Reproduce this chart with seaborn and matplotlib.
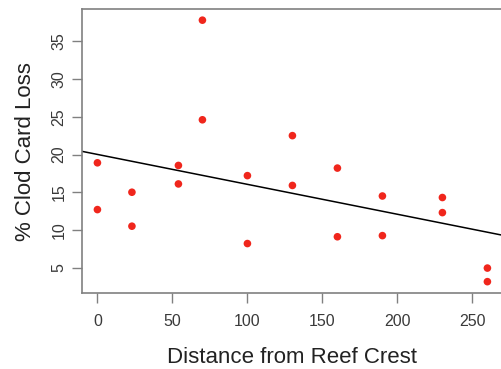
import numpy as np
import pandas as pd
import matplotlib
matplotlib.use("Agg")
import matplotlib.pyplot as plt
import seaborn as sns

# distance from reef crest (m) and % clod card loss
distance = [0, 0, 23, 23, 54, 54, 70, 70, 100, 100,
            130, 130, 160, 160, 190, 190, 230, 230, 260, 260]
loss = [18.9, 12.7, 15.0, 10.5, 18.55, 16.1, 37.8, 24.6, 17.2, 8.2,
        22.5, 15.9, 18.2, 9.1, 14.5, 9.25, 14.3, 12.3, 4.95, 3.15]
xticks = [0, 50, 100, 150, 200, 250]
yticks = [5, 10, 15, 20, 25, 30, 35]

data = pd.DataFrame({'Distance': distance, 'Loss': loss})

sns.set_style('white')
plt.rcParams['font.family'] = ['Liberation Sans', 'DejaVu Sans']

fig = plt.figure(figsize=(5.02, 3.69), dpi=100)
ax = fig.add_axes([0.163, 0.205, 0.839, 0.771])

xmin, xmax = -10.4, 270.4
ymin, ymax = 1.6, 39.3
ax.set_xlim(xmin, xmax)
ax.set_ylim(ymin, ymax)

sns.regplot(x='Distance', y='Loss', data=data, ax=ax, scatter=False,
            ci=None, truncate=False, color='black', line_kws={'linewidth': 1.1})
sns.scatterplot(x='Distance', y='Loss', data=data, ax=ax, color='#f0261c',
                s=30, edgecolor='none', zorder=3)

ax.set_xlim(xmin, xmax)
ax.set_ylim(ymin, ymax)
ax.set_xticks(xticks)
ax.set_yticks(yticks)
ax.set_yticklabels([str(t) for t in yticks], rotation=90, va='center')

for sp in ax.spines.values():
    sp.set_color('#808080')
    sp.set_linewidth(1.2)
ax.tick_params(axis='both', which='major', length=7, width=1.0, color='#808080',
               labelsize=11.5, labelcolor='#3a3a3a', direction='out',
               left=True, bottom=True, pad=8)
ax.tick_params(axis='y', pad=4)

ax.set_xlabel('Distance from Reef Crest', fontsize=16, color='#222222', labelpad=13)
ax.set_ylabel('% Clod Card Loss', fontsize=16, color='#222222', labelpad=11.5)

fig.savefig('out.png', dpi=100)
